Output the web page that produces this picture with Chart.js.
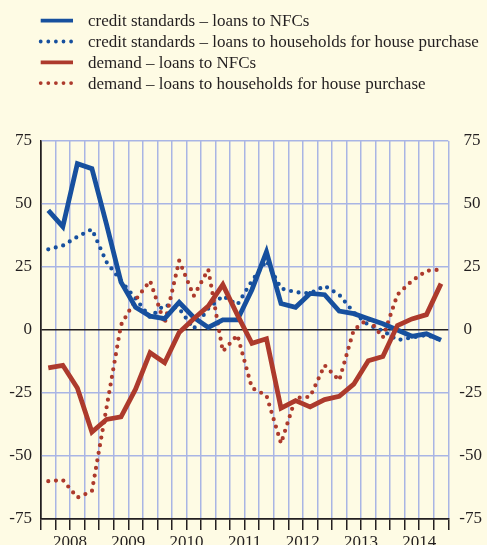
<!DOCTYPE html>
<html>
<head>
<meta charset="utf-8">
<script src="https://cdn.jsdelivr.net/npm/chart.js@4"></script>
<style>
  html, body { margin: 0; padding: 0; background: #fefbe4; }
  #wrap { width: 487px; height: 545px; position: relative; }
</style>
</head>
<body>
<div id="wrap"><canvas id="chart"></canvas></div>
<script>
// quarterly data, 2008 Q1 - 2014 Q4
const years = ['2008', '2009', '2010', '2011', '2012', '2013', '2014'];

const creditNFC = [47.5, 41, 66, 64, 42, 19, 9, 5.5, 4.5, 11, 5, 1, 4, 4,
    16, 31, 10.5, 9, 14.5, 14, 7.5, 6.5, 4.5, 2.5, 0, -2.5, -1.5, -4];
const creditHH = [32, 33.5, 37, 40, 27, 19.5, 12.5, 5, 10, 8.5, 0.5, 8.5, 13.5, 10,
    19.5, 27.5, 16.5, 15, 14.5, 17.5, 14, 7, 2, -0.3, -4, -3, -2, -4];
const demandNFC = [-15, -14, -23, -40.5, -35.5, -34.5, -23.5, -9, -13, -1, 4.5, 9.5, 18, 6,
    -5.3, -3.5, -31, -28, -30.5, -27.6, -26.3, -21.5, -12.2, -10.5, 1.8, 4.4, 6.1, 18.4];
const demandHH = [-60, -59.5, -66.5, -64, -31, 2, 12, 19.5, 2.5, 27.5, 13.5, 24, -8.5, -2,
    -23, -26, -45, -27, -26.5, -14, -20, 0, 4.5, -3, 14, 19.5, 23.5, 24];

const blue = '#17509e';
const red = '#ad3a2c';
const gridBlue = '#a9b5e4';
const ink = '#231f20';
const serif = 'Liberation Serif';

// points sit in the middle of each quarter
function toPoints(values) {
    return values.map((v, i) => ({ x: i + 0.5, y: v }));
}

// legend drawn above the plot, one entry per row
const rowLegend = {
    id: 'rowLegend',
    afterDraw(chart) {
        const ctx = chart.ctx;
        ctx.save();
        ctx.font = '17px "' + serif + '"';
        ctx.textBaseline = 'middle';
        chart.data.datasets.forEach((ds, i) => {
            const y = 20.7 + i * 20.8;
            ctx.strokeStyle = ds.borderColor;
            ctx.lineCap = ds.borderDash ? 'round' : 'butt';
            ctx.lineWidth = ds.borderDash ? 3.8 : 3.8;
            ctx.setLineDash(ds.borderDash ? [0, 7.6] : []);
            ctx.beginPath();
            ctx.moveTo(40.7, y);
            ctx.lineTo(73, y);
            ctx.stroke();
            ctx.fillStyle = ink;
            ctx.fillText(ds.label, 88, y + 1);
        });
        ctx.restore();
    }
};

const ctx = document.getElementById('chart').getContext('2d');
new Chart(ctx, {
    type: 'line',
    data: {
        datasets: [
            {
                label: 'credit standards \u2013 loans to NFCs',
                data: toPoints(creditNFC),
                borderColor: blue,
                borderWidth: 4.8,
                order: 2
            },
            {
                label: 'credit standards \u2013 loans to households for house purchase',
                data: toPoints(creditHH),
                borderColor: blue,
                borderWidth: 4.2,
                borderDash: [0, 7.7],
                borderCapStyle: 'round',
                order: 4
            },
            {
                label: 'demand \u2013 loans to NFCs',
                data: toPoints(demandNFC),
                borderColor: red,
                borderWidth: 4.8,
                order: 1
            },
            {
                label: 'demand \u2013 loans to households for house purchase',
                data: toPoints(demandHH),
                borderColor: red,
                borderWidth: 4.2,
                borderDash: [0, 7.7],
                borderCapStyle: 'round',
                order: 3
            }
        ]
    },
    options: {
        responsive: true,
        maintainAspectRatio: false,
        animation: false,
        layout: { padding: { top: 141, left: 0, right: 0, bottom: 0 } },
        elements: {
            point: { radius: 0 },
            line: { tension: 0, fill: false }
        },
        plugins: {
            legend: { display: false },
            tooltip: { enabled: false }
        },
        scales: {
            x: {
                type: 'linear',
                min: 0,
                max: 28,
                afterFit: (scale) => { scale.height = 26; },
                grid: {
                    color: (c) => c.tick && c.tick.value === 0 ? ink : gridBlue,
                    lineWidth: 1.5,
                    tickColor: ink,
                    tickLength: 11,
                    drawTicks: true
                },
                border: { color: ink, width: 1.5 },
                ticks: {
                    stepSize: 1,
                    autoSkip: false,
                    maxRotation: 0,
                    padding: 2,
                    color: ink,
                    font: { family: serif, size: 17 },
                    callback: (v) => (v % 4 === 2 ? years[(v - 2) / 4] : '')
                }
            },
            y: {
                position: 'left',
                min: -75,
                max: 75,
                afterFit: (scale) => { scale.width = 41; },
                grid: {
                    color: (c) => (c.tick.value === 0 || c.tick.value === -75) ? ink : gridBlue,
                    lineWidth: 1.5,
                    drawTicks: false
                },
                border: { color: ink, width: 1.5 },
                ticks: {
                    stepSize: 25,
                    padding: 9,
                    color: ink,
                    font: { family: serif, size: 17 }
                }
            },
            y2: {
                position: 'right',
                min: -75,
                max: 75,
                afterFit: (scale) => { scale.width = 38.7; },
                grid: { display: false, drawTicks: false },
                border: { display: false },
                ticks: {
                    stepSize: 25,
                    padding: 11,
                    color: ink,
                    font: { family: serif, size: 17 },
                    callback: (v) => (v >= 0 ? ' ' + v : String(v))
                }
            }
        }
    },
    plugins: [rowLegend]
});
</script>
</body>
</html>
